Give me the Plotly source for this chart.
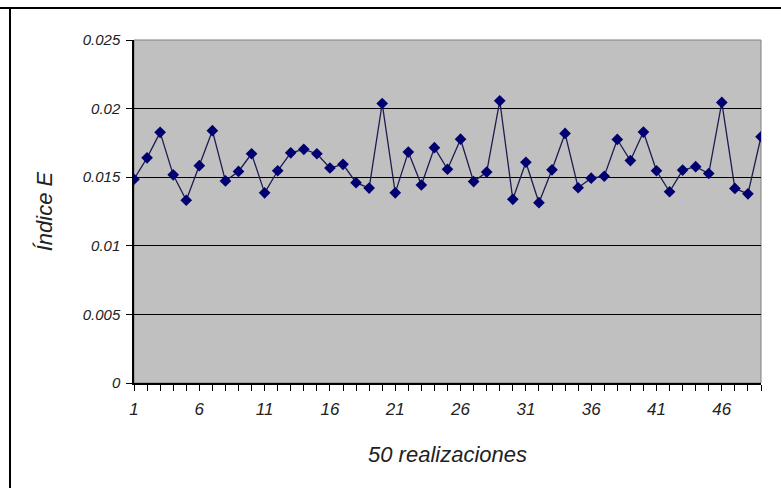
import plotly.graph_objects as go

realizaciones = list(range(1, 50))
indice_e = [
    0.01485, 0.01641, 0.01827, 0.01517, 0.01332, 0.01584, 0.01839, 0.01473, 0.01542, 0.01671,
    0.01386, 0.01547, 0.01678, 0.01703, 0.01671, 0.01567, 0.01594, 0.01460, 0.01421, 0.02037,
    0.01386, 0.01683, 0.01443, 0.01715, 0.01558, 0.01777, 0.01468, 0.01537, 0.02057, 0.01339,
    0.01609, 0.01314, 0.01554, 0.01819, 0.01423, 0.01493, 0.01507, 0.01775, 0.01621, 0.01829,
    0.01547, 0.01394, 0.01552, 0.01577, 0.01527, 0.02045, 0.01418, 0.01379, 0.01795,
]
x_tick_vals = [1, 6, 11, 16, 21, 26, 31, 36, 41, 46]
y_tick_vals = [0, 0.005, 0.01, 0.015, 0.02, 0.025]
y_tick_text = ["0", "0.005", "0.01", "0.015", "0.02", "0.025"]

fig = go.Figure()
fig.add_trace(go.Scatter(
    x=realizaciones, y=indice_e, mode="lines+markers",
    line=dict(color="#1c1c50", width=1.3),
    marker=dict(symbol="diamond", size=9, color="#000070"),
    showlegend=False,
))

font_it = dict(family="Liberation Sans, Arial, sans-serif", style="italic", color="#222222")

fig.update_layout(
    width=781, height=492,
    margin=dict(l=134, r=20, t=40, b=109),
    paper_bgcolor="white",
    plot_bgcolor="#c0c0c0",
    xaxis=dict(
        range=[1, 49], tickvals=x_tick_vals, ticktext=[str(v) for v in x_tick_vals],
        ticks="outside", ticklen=6, tickcolor="black", tickwidth=1.3,
        minor=dict(tick0=1, dtick=1, ticks="outside", ticklen=6, tickcolor="black", tickwidth=1.3, showgrid=False),
        showgrid=False, zeroline=False,
        showline=True, linecolor="black", linewidth=1.5,
        tickfont=dict(size=17, **font_it),
        ticklabelstandoff=4,
        title=dict(text="50 realizaciones", font=dict(size=22, **font_it), standoff=28),
    ),
    yaxis=dict(
        range=[0, 0.025], tickvals=y_tick_vals, ticktext=y_tick_text,
        ticks="outside", ticklen=6, tickcolor="black", tickwidth=1.3,
        showgrid=True, gridcolor="black", gridwidth=1.3,
        zeroline=False,
        showline=True, linecolor="black", linewidth=1.5,
        tickfont=dict(size=15, **font_it),
        ticklabelstandoff=3,
        title=dict(text="Índice E", font=dict(size=22, **font_it), standoff=24),
    ),
    shapes=[
        dict(type="rect", xref="paper", yref="paper", x0=0, x1=1, y0=0, y1=1,
             line=dict(color="#808080", width=1), layer="below"),
        dict(type="line", xref="paper", yref="paper", x0=-134/627, x1=647/627, y0=(492-109-8)/343, y1=(492-109-8)/343,
             line=dict(color="black", width=2)),
        dict(type="line", xref="paper", yref="paper", x0=-124/627, x1=-124/627, y0=(492-109-8)/343, y1=-(109-4)/343,
             line=dict(color="black", width=2)),
    ],
)

fig.write_html("out.html", config={"displayModeBar": False},
               post_script="document.body.style.margin='0';")
